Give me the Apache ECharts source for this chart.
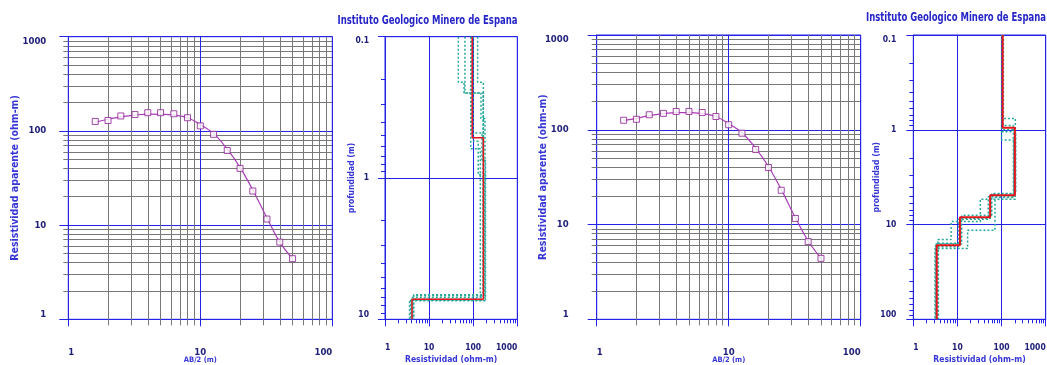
<!DOCTYPE html>
<html>
<head>
<meta charset="utf-8">
<script src="https://cdn.jsdelivr.net/npm/echarts@6/dist/echarts.min.js"></script>
<style>
  html, body { margin: 0; padding: 0; background: #fff; }
  #chart { width: 1047px; height: 365px; }
</style>
</head>
<body>
<div id="chart"></div>
<script>
// Sondeo eléctrico vertical: semi-distancia AB/2 (m) y resistividad aparente (ohm-m)
const ab2 = [1.6, 2, 2.5, 3.2, 4, 5, 6.3, 8, 10, 12.6, 16, 20, 25, 32, 40, 50];
const rhoObs = [126, 129, 144, 149, 156, 156, 152, 138, 113, 92, 62, 40, 23, 11.6, 6.6, 4.4];
// Curvas teóricas de los dos modelos invertidos
const rhoFitA = [124, 133, 141, 147, 151, 150, 147, 138, 117, 94, 64, 41, 23.6, 11.9, 6.6, 4.4];
const rhoFitB = [125, 132, 141, 148, 152, 152, 148, 138, 116, 93, 64, 41, 23.5, 11.8, 6.7, 4.4];

// Modelo A (3 capas): resistividades y profundidades de los contactos
const modelARho = [95, 170, 4.1];
const modelADepth = [0.52, 7.2];
// Modelos equivalentes A
const equivARho = [
  [46, 62, 168, 4.5],
  [65, 150, 185, 3.6],
  [126, 170, 4.2],
  [92, 158, 190, 3.8],
  [100, 130, 178, 4.4],
  [88, 145, 4.0]
];
const equivADepth = [
  [0.21, 0.25, 6.7],
  [0.25, 0.38, 7.4],
  [0.21, 7.0],
  [0.48, 0.75, 7.3],
  [0.55, 0.95, 6.8],
  [0.62, 7.2]
];

// Modelo B (5 capas)
const modelBRho = [106, 200, 55, 11.4, 3.4];
const modelBDepth = [0.95, 4.9, 8.4, 16.5];
// Modelos equivalentes B
const equivBRho = [
  [110, 205, 33, 7.2, 3.6],
  [100, 190, 71, 17, 3.1],
  [104, 210, 60, 12.5, 3.2],
  [108, 185, 50, 10.5, 3.7],
  [102, 200, 58, 12, 3.3]
];
const equivBDepth = [
  [0.76, 5.4, 9.3, 14.4],
  [1.28, 5.2, 11.5, 17.9],
  [1.05, 4.7, 8.0, 16.0],
  [0.9, 5.1, 8.8, 17.2],
  [1.0, 4.8, 8.6, 15.8]
];

const titleText = 'Instituto Geologico Minero de Espana';

const BLUE = '#2424e8';
const GRAY = '#787878';
const NAVY = '#20207a';
const NAMEC = '#3636d6';
const CURVE = '#a93cb8';
const MARK = '#8c1c94';
const RED = '#e8141c';
const TEAL = '#25a89c';
const FONT = '"Liberation Sans Narrow", "DejaVu Sans Condensed", "Liberation Sans", Arial, sans-serif';

const chart = echarts.init(document.getElementById('chart'), null, { renderer: 'canvas' });

function txt(size, color) {
  return { fontSize: size, fontWeight: 'bold', color: color, fontFamily: FONT };
}
function plainNumber(v) {
  return String(+Number(v).toPrecision(6));
}

function pairs(xs, ys) {
  return xs.map((x, i) => [x, ys[i]]);
}

function stepPoints(rhos, depths, top, bottom) {
  const edges = [top].concat(depths, [bottom]);
  const pts = [];
  rhos.forEach((r, i) => { pts.push([r, edges[i]], [r, edges[i + 1]]); });
  return pts;
}

// Ejes del gráfico de la curva de campo (papel bilogarítmico)
function curveXAxis(gi) {
  return {
    type: 'log', logBase: 10, gridIndex: gi, min: 1, max: 100,
    axisLine: { show: true, onZero: false, lineStyle: { color: BLUE, width: 1 } },
    axisTick: { show: true, length: 7, lineStyle: { color: BLUE } },
    minorTick: { show: true, splitNumber: 9, length: 6, lineStyle: { color: GRAY } },
    splitLine: { show: true, lineStyle: { color: BLUE, width: 1 } },
    minorSplitLine: { show: true, lineStyle: { color: GRAY, width: 1 } },
    axisLabel: Object.assign(txt(9.5, NAVY), {
      margin: 28, alignMinLabel: 'left', alignMaxLabel: 'right', formatter: plainNumber
    }),
    name: 'AB/2 (m)', nameLocation: 'middle', nameGap: 37, nameMoveOverlap: false,
    nameTextStyle: txt(7.5, NAMEC)
  };
}
function curveYAxis(gi, margin) {
  return {
    type: 'log', logBase: 10, gridIndex: gi, min: 1, max: 1000,
    axisLine: { show: true, onZero: false, lineStyle: { color: BLUE, width: 1 } },
    axisTick: { show: true, length: 9, lineStyle: { color: BLUE } },
    minorTick: { show: true, splitNumber: 9, length: 5, lineStyle: { color: GRAY } },
    splitLine: { show: true, lineStyle: { color: BLUE, width: 1 } },
    minorSplitLine: { show: true, lineStyle: { color: GRAY, width: 1 } },
    axisLabel: Object.assign(txt(9.5, NAVY), {
      margin: margin, verticalAlignMinLabel: 'bottom', verticalAlignMaxLabel: 'top', formatter: plainNumber
    }),
    name: 'Resistividad aparente (ohm-m)', nameLocation: 'middle', nameRotate: 90, nameGap: 48,
    nameMoveOverlap: false,
    nameTextStyle: txt(10.5, NAMEC)
  };
}
// Ejes del perfil resistividad-profundidad
function profileXAxis(gi) {
  return {
    type: 'log', logBase: 10, gridIndex: gi, min: 1, max: 1000,
    axisLine: { show: true, onZero: false, lineStyle: { color: BLUE, width: 1 } },
    axisTick: { show: true, length: 7, lineStyle: { color: BLUE } },
    minorTick: { show: true, splitNumber: 9, length: 4, lineStyle: { color: BLUE } },
    splitLine: { show: true, lineStyle: { color: BLUE, width: 1 } },
    minorSplitLine: { show: false },
    axisLabel: Object.assign(txt(8.5, NAVY), {
      margin: 24, alignMinLabel: 'left', alignMaxLabel: 'right', formatter: plainNumber
    }),
    name: 'Resistividad (ohm-m)', nameLocation: 'middle', nameGap: 36, nameMoveOverlap: false,
    nameTextStyle: txt(8.5, NAMEC)
  };
}
function profileYAxis(gi, maxDepth, margin, gap) {
  return {
    type: 'log', logBase: 10, gridIndex: gi, min: 0.1, max: maxDepth, inverse: true,
    axisLine: { show: true, onZero: false, lineStyle: { color: BLUE, width: 1 } },
    axisTick: { show: true, length: 7, lineStyle: { color: BLUE } },
    minorTick: { show: true, splitNumber: 9, length: 4, lineStyle: { color: BLUE } },
    splitLine: { show: true, lineStyle: { color: BLUE, width: 1 } },
    minorSplitLine: { show: false },
    axisLabel: Object.assign(txt(8.5, NAVY), {
      margin: margin, verticalAlignMinLabel: 'top', verticalAlignMaxLabel: 'bottom', formatter: plainNumber
    }),
    name: 'profundidad (m)', nameLocation: 'middle', nameRotate: 90, nameGap: gap,
    nameMoveOverlap: false,
    nameTextStyle: txt(8.5, NAMEC)
  };
}

function curveSeries(gi, fit) {
  return [
    {
      type: 'line', xAxisIndex: gi, yAxisIndex: gi, data: pairs(ab2, fit),
      smooth: 0.35, showSymbol: false, symbol: 'none',
      lineStyle: { color: CURVE, width: 1.2 }, z: 3
    },
    {
      type: 'scatter', xAxisIndex: gi, yAxisIndex: gi, data: pairs(ab2, rhoObs),
      symbol: 'rect', symbolSize: 6,
      itemStyle: { color: '#ffffff', borderColor: MARK, borderWidth: 1 }, z: 4
    }
  ];
}

function profileSeries(gi, rhoList, depthList, rho, depth, maxDepth, redWidth) {
  const out = rhoList.map((r, k) => ({
    type: 'line', xAxisIndex: gi, yAxisIndex: gi,
    data: stepPoints(r, depthList[k], 0.1, maxDepth),
    showSymbol: false, symbol: 'none',
    lineStyle: { color: TEAL, width: 1.5, type: [2, 2] }, z: 3
  }));
  out.push({
    type: 'line', xAxisIndex: gi, yAxisIndex: gi,
    data: stepPoints(rho, depth, 0.1, maxDepth),
    showSymbol: false, symbol: 'none',
    lineStyle: { color: RED, width: redWidth }, z: 4
  });
  return out;
}

// Ancho del rótulo para encajarlo sobre el perfil
const titleFont = 'bold 13px ' + FONT;
const probe = new echarts.graphic.Text({ style: { text: titleText, font: titleFont } });
const titleW = probe.getBoundingRect().width || 180;
const titleScale = 180 / titleW;

const gridBase = {
  show: true, borderColor: BLUE, borderWidth: 1, backgroundColor: 'transparent',
  containLabel: false, outerBoundsMode: 'none'
};

chart.setOption({
  animation: false,
  backgroundColor: '#ffffff',
  grid: [
    Object.assign({ left: 68.3, top: 36.7, width: 264, height: 282.6 }, gridBase),
    Object.assign({ left: 385, top: 36.7, width: 132.3, height: 282.6 }, gridBase),
    Object.assign({ left: 596.7, top: 35, width: 264, height: 284.3 }, gridBase),
    Object.assign({ left: 913.3, top: 35, width: 132.4, height: 284.3 }, gridBase)
  ],
  xAxis: [curveXAxis(0), profileXAxis(1), curveXAxis(2), profileXAxis(3)],
  yAxis: [curveYAxis(0, 22), profileYAxis(1, 10, 16, 28.5), curveYAxis(2, 28), profileYAxis(3, 100, 17, 32.5)],
  series: [].concat(
    curveSeries(0, rhoFitA),
    profileSeries(1, equivARho, equivADepth, modelARho, modelADepth, 10, 1.5),
    curveSeries(2, rhoFitB),
    profileSeries(3, equivBRho, equivBDepth, modelBRho, modelBDepth, 100, 2)
  ),
  graphic: [
    {
      type: 'text', x: 427.5, y: 21, scaleX: titleScale, scaleY: 1,
      style: { text: titleText, font: titleFont, fill: '#2424c8', align: 'center', verticalAlign: 'middle' }
    },
    {
      type: 'text', x: 956, y: 18, scaleX: titleScale, scaleY: 1,
      style: { text: titleText, font: titleFont, fill: '#2424c8', align: 'center', verticalAlign: 'middle' }
    }
  ]
});
</script>
</body>
</html>
